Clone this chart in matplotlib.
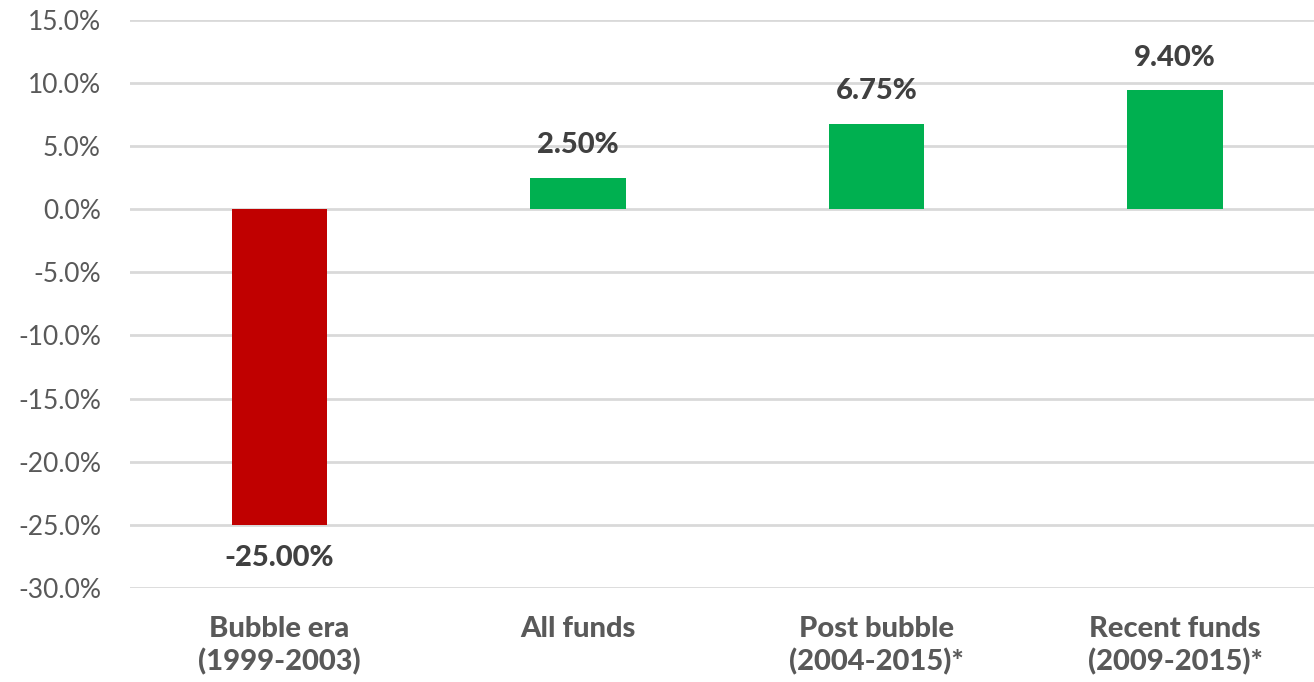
import matplotlib.pyplot as plt
from matplotlib.ticker import FuncFormatter, MultipleLocator

# values
categories = ["Bubble era\n(1999-2003)", "All funds",
              "Post bubble\n(2004-2015)*", "Recent funds\n(2009-2015)*"]
returns = [-25.00, 2.50, 6.75, 9.40]

RED, GREEN = "#C00000", "#00B050"
plt.rcParams["font.family"] = ["Lato", "DejaVu Sans"]

fig = plt.figure(figsize=(13.14, 6.82), dpi=100)
# plot area runs a little past the right edge, as in the original
ax = fig.add_axes([0.099, 0.138, 0.909, 0.833])

x = range(len(categories))
colors = [RED if v < 0 else GREEN for v in returns]
ax.bar(x, returns, width=0.32, color=colors, zorder=3)

for xi, v in zip(x, returns):
    off = 2.6 if v >= 0 else -2.6
    ax.text(xi, v + off, f"{v:.2f}%", ha="center", va="center",
            fontsize=21, fontweight="black", color="#404040")

ax.set_ylim(-30, 15)
ax.set_xlim(-0.5, len(categories) - 0.5)
ax.yaxis.set_major_locator(MultipleLocator(5))
ax.yaxis.set_major_formatter(FuncFormatter(lambda v, _: f"{v:.1f}%"))
ax.grid(axis="y", color="#D9D9D9", linewidth=2, zorder=0)

ax.set_xticks(list(x))
ax.set_xticklabels(categories, fontsize=21, fontweight="black", color="#595959",
                   linespacing=1.3)
ax.tick_params(axis="x", length=0, pad=20)
ax.tick_params(axis="y", length=0, pad=21, labelsize=19, labelcolor="#595959")
for s in ax.spines.values():
    s.set_visible(False)

fig.savefig("out.png", dpi=100)
